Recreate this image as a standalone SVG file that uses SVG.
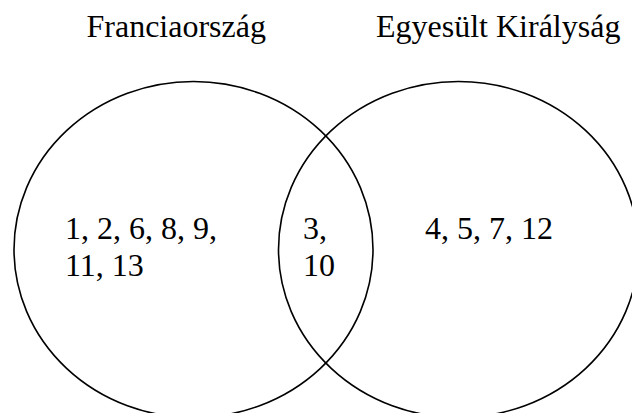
<svg xmlns="http://www.w3.org/2000/svg" width="632" height="413" viewBox="0 0 632 413">
<style>
.c{fill:none;stroke:#000;stroke-width:1.6}
.t{font-family:"Liberation Serif","Times New Roman",serif;font-size:32px;fill:#000}
</style>
<rect width="632" height="413" fill="#fff"/>
<g id="france">
<ellipse class="c" cx="193.5" cy="249.5" rx="179.5" ry="168"/>
<text class="t" x="86.5" y="37">Franciaország</text>
<text class="t" x="65" y="239">1, 2, 6, 8, 9,</text>
<text class="t" x="65" y="276">11, 13</text>
</g>
<g id="uk">
<ellipse class="c" cx="458.5" cy="249.5" rx="180" ry="168"/>
<text class="t" x="376" y="37">Egyesült Királyság</text>
<text class="t" x="425" y="239">4, 5, 7, 12</text>
</g>
<g id="both">
<text class="t" x="303" y="239">3,</text>
<text class="t" x="303" y="276">10</text>
</g>
<g id="connectors"></g>
</svg>
